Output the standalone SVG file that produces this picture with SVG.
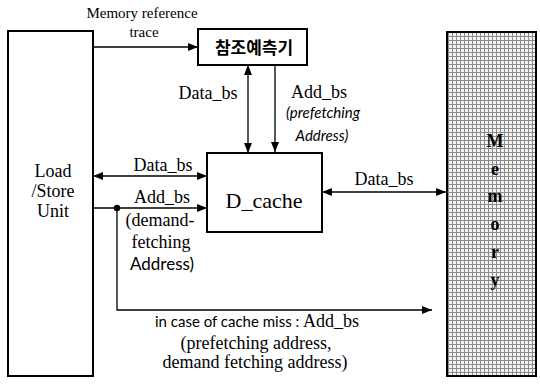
<svg xmlns="http://www.w3.org/2000/svg" width="540" height="384" viewBox="0 0 540 384">
  <style>
    .box { fill: #fff; stroke: #000; stroke-width: 2; }
    .wire { fill: none; stroke: #000; stroke-width: 1.3; }
    .t { font-family: "Liberation Serif", "Times New Roman", serif; fill: #000; text-anchor: middle; }
    .s { font-family: "Lato", "Open Sans", sans-serif; fill: #000; }
    .lbl { font-size: 18px; }
    .small { font-size: 15px; }
    .mem { font-family: "Liberation Serif", "Times New Roman", serif; font-weight: bold; font-size: 18px; text-anchor: middle; }
    .kr { font-family: "Noto Sans CJK KR", "Noto Sans", sans-serif; font-weight: bold; font-size: 17px; text-anchor: middle; }
  </style>
  <defs>
    <marker id="arr" viewBox="0 0 10 8" refX="10" refY="4" markerWidth="10" markerHeight="8" markerUnits="userSpaceOnUse" orient="auto-start-reverse">
      <path d="M0 0L10 4L0 8z" fill="#000"/>
    </marker>
    <!-- fine screen-tone grid for the memory block -->
    <pattern id="grid" width="4" height="4" patternUnits="userSpaceOnUse">
      <rect width="4" height="4" fill="#f4f4f4"/>
      <path d="M0 0.5H4M0.5 0V4" stroke="#8a8a8a" stroke-width="1"/>
    </pattern>
  </defs>

  <rect width="540" height="384" fill="#fff"/>

  <g id="lsu">
    <rect class="box" x="8" y="31" width="85" height="345"/>
    <text class="t lbl" x="53" y="177">Load</text>
    <text class="t lbl" x="53" y="197">/Store</text>
    <text class="t lbl" x="53" y="217">Unit</text>
  </g>

  <g id="predictor">
    <rect class="box" x="198" y="29" width="109" height="36"/>
    <text class="kr" x="254" y="54">참조예측기</text>
  </g>

  <g id="dcache">
    <rect class="box" x="207" y="153" width="115" height="79"/>
    <text class="t" x="264" y="208" font-size="22">D_cache</text>
  </g>

  <g id="memory">
    <rect x="447" y="32" width="89" height="344" fill="url(#grid)" stroke="#000" stroke-width="2"/>
    <text class="mem" x="495" y="147">M</text>
    <text class="mem" x="495" y="175">e</text>
    <text class="mem" x="495" y="202">m</text>
    <text class="mem" x="495" y="230">o</text>
    <text class="mem" x="495" y="258">r</text>
    <text class="mem" x="495" y="286">y</text>
  </g>

  <g id="connectors">
    <!-- trace feed into the predictor -->
    <line class="wire" x1="93" y1="47" x2="198" y2="47" marker-end="url(#arr)"/>
    <!-- predictor <-> D_cache -->
    <line class="wire" x1="248" y1="65" x2="248" y2="153" marker-start="url(#arr)" marker-end="url(#arr)"/>
    <line class="wire" x1="275" y1="65" x2="275" y2="152" marker-end="url(#arr)"/>
    <!-- LSU <-> D_cache -->
    <line class="wire" x1="93" y1="176" x2="207" y2="176" marker-start="url(#arr)" marker-end="url(#arr)"/>
    <line class="wire" x1="93" y1="208" x2="207" y2="208" marker-end="url(#arr)"/>
    <!-- D_cache <-> memory -->
    <line class="wire" x1="322" y1="192" x2="446" y2="192" marker-start="url(#arr)" marker-end="url(#arr)"/>
    <!-- miss path to memory -->
    <circle cx="117" cy="208" r="3.2" fill="#000"/>
    <polyline class="wire" points="117,208 117,310 432,310" marker-end="url(#arr)"/>
  </g>

  <g id="labels">
    <text class="t small" x="142" y="18">Memory reference</text>
    <text class="t small" x="144" y="37">trace</text>

    <text class="t lbl" x="208" y="99">Data_bs</text>
    <text class="t lbl" x="319" y="98">Add_bs</text>
    <text class="s small" x="323" y="118" font-style="italic" text-anchor="middle">(prefetching</text>
    <text class="s small" x="322" y="141" font-style="italic" text-anchor="middle">Address)</text>

    <text class="t lbl" x="163" y="171">Data_bs</text>
    <text class="t lbl" x="162" y="203">Add_bs</text>
    <text class="t lbl" x="160" y="226">(demand-</text>
    <text class="t lbl" x="161" y="248">fetching</text>
    <text class="s" x="162" y="270" font-size="17" text-anchor="middle">Address)</text>

    <text class="t lbl" x="384" y="185">Data_bs</text>

    <text x="155" y="327"><tspan class="s" font-size="15">in case of cache miss : </tspan><tspan font-family="Liberation Serif, Times New Roman, serif" font-size="18">Add_bs</tspan></text>
    <text class="t lbl" x="256" y="349">(prefetching address,</text>
    <text class="t lbl" x="255" y="368">demand fetching address)</text>
  </g>
</svg>
